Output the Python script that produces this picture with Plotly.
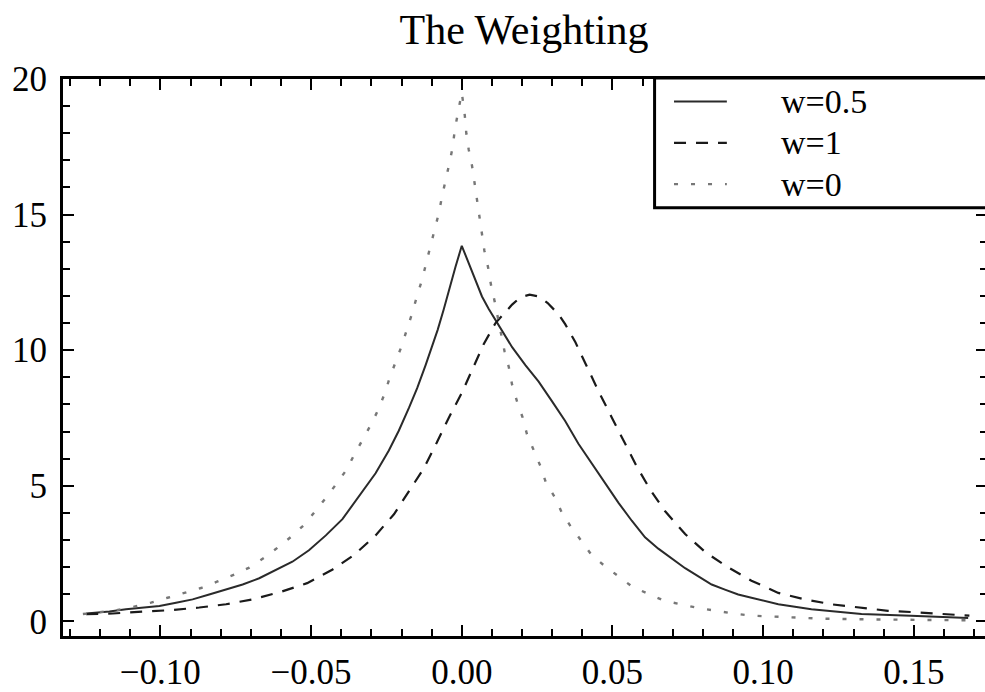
import plotly.graph_objects as go

# ---- data ----
x_w0 = [-0.1257, -0.1208, -0.1147, -0.1092, -0.1031, -0.0976, -0.0920, -0.0865, -0.0810, -0.0755,
        -0.0705, -0.0656, -0.0612, -0.0564, -0.0520, -0.0487, -0.0451, -0.0418, -0.0383, -0.0358,
        -0.0330, -0.0299, -0.0277, -0.0255, -0.0239, -0.0218, -0.0198, -0.0181, -0.0164, -0.0148,
        -0.0131, -0.0118, -0.0104, -0.0089, -0.0076, -0.0065, -0.0052, -0.0041, -0.0030, -0.0023,
        -0.0012, 0.0000, 0.0010, 0.0015, 0.0023, 0.0034, 0.0042, 0.0051, 0.0058, 0.0067,
        0.0075, 0.0087, 0.0097, 0.0109, 0.0120, 0.0131, 0.0142, 0.0156, 0.0167, 0.0183,
        0.0202, 0.0216, 0.0238, 0.0261, 0.0279, 0.0308, 0.0332, 0.0363, 0.0398, 0.0431,
        0.0470, 0.0520, 0.0564, 0.0619, 0.0674, 0.0727, 0.0785, 0.0845, 0.0900, 0.0961,
        0.1072, 0.1193, 0.1304, 0.1420, 0.1550, 0.1700]
y_w0 = [0.27, 0.33, 0.41, 0.53, 0.69, 0.87, 1.05, 1.23, 1.47, 1.72,
        1.98, 2.34, 2.71, 3.14, 3.59, 4.04, 4.55, 5.04, 5.58, 6.12,
        6.69, 7.30, 7.81, 8.42, 8.99, 9.63, 10.20, 10.80, 11.38, 12.02,
        12.62, 13.22, 13.82, 14.42, 15.06, 15.70, 16.30, 16.90, 17.50, 18.14,
        18.80, 19.50, 18.66, 18.00, 17.40, 16.80, 16.20, 15.54, 14.94, 14.28,
        13.67, 13.07, 12.40, 11.80, 11.20, 10.60, 9.95, 9.38, 8.72, 8.12,
        7.51, 6.91, 6.30, 5.72, 5.12, 4.59, 4.01, 3.47, 2.95, 2.44,
        2.08, 1.66, 1.29, 1.01, 0.75, 0.63, 0.49, 0.39, 0.29, 0.21,
        0.15, 0.10, 0.08, 0.06, 0.05, 0.04]

x_w05 = [-0.1246, -0.1169, -0.1114, -0.1059, -0.1003, -0.0948, -0.0893, -0.0838, -0.0782, -0.0727,
         -0.0672, -0.0617, -0.0562, -0.0507, -0.0451, -0.0396, -0.0341, -0.0286, -0.0242, -0.0209,
         -0.0175, -0.0148, -0.0120, -0.0098, -0.0080, -0.0060, -0.0043, -0.0021, 0.0000, 0.0023,
         0.0045, 0.0067, 0.0089, 0.0117, 0.0140, 0.0167, 0.0211, 0.0255, 0.0299, 0.0343,
         0.0387, 0.0431, 0.0476, 0.0520, 0.0564, 0.0608, 0.0652, 0.0697, 0.0741, 0.0785,
         0.0829, 0.0873, 0.0917, 0.0961, 0.1050, 0.1160, 0.1326, 0.1490, 0.1680]
y_w05 = [0.29, 0.36, 0.45, 0.51, 0.57, 0.69, 0.81, 0.99, 1.17, 1.36,
         1.59, 1.90, 2.20, 2.62, 3.17, 3.77, 4.62, 5.46, 6.30, 7.03,
         7.88, 8.60, 9.45, 10.17, 10.75, 11.50, 12.22, 13.07, 13.85, 13.19,
         12.59, 11.98, 11.53, 11.01, 10.62, 10.11, 9.45, 8.84, 8.12, 7.39,
         6.55, 5.82, 5.10, 4.37, 3.71, 3.10, 2.68, 2.32, 1.96, 1.66,
         1.36, 1.17, 0.99, 0.87, 0.63, 0.45, 0.27, 0.21, 0.12]

x_w1 = [-0.1246, -0.1158, -0.1059, -0.0970, -0.0871, -0.0782, -0.0694, -0.0600, -0.0513, -0.0430,
        -0.0358, -0.0286, -0.0225, -0.0175, -0.0126, -0.0082, -0.0043, 0.0000, 0.0040, 0.0073,
        0.0112, 0.0167, 0.0194, 0.0225, 0.0255, 0.0285, 0.0321, 0.0343, 0.0377, 0.0415,
        0.0454, 0.0498, 0.0537, 0.0581, 0.0625, 0.0674, 0.0741, 0.0807, 0.0879, 0.0961,
        0.1050, 0.1138, 0.1226, 0.1315, 0.1414, 0.1513, 0.1602, 0.1684]
y_w1 = [0.27, 0.29, 0.36, 0.41, 0.51, 0.63, 0.81, 1.09, 1.41, 1.90,
        2.44, 3.17, 3.95, 4.80, 5.64, 6.61, 7.51, 8.42, 9.40, 10.23,
        11.00, 11.68, 11.95, 12.05, 11.98, 11.74, 11.32, 10.96, 10.29, 9.38,
        8.48, 7.51, 6.67, 5.70, 4.86, 4.07, 3.22, 2.56, 2.02, 1.50,
        1.05, 0.81, 0.63, 0.51, 0.39, 0.33, 0.27, 0.21]

series_names = ["w=0.5", "w=1", "w=0"]
x_tickvals = [-0.10, -0.05, 0.00, 0.05, 0.10, 0.15]
x_ticktext = ["\u22120.10", "\u22120.05", "0.00", "0.05", "0.10", "0.15"]
y_tickvals = [0, 5, 10, 15, 20]
y_ticktext = ["0", "5", "10", "15", "20"]
title_text = "The Weighting"

FONT = "Liberation Serif, Times New Roman, serif"
VIEW_W = 985                      # visible window width
W, H = 990, 692                   # frame's right edge lies just past the window
L, R, T, B = 63, 0, 79, 46
PW, PH = W - L - R, H - T - B
PX_PER_UNIT = 3024.0
X0 = -0.1323

styles = [
    dict(color="#2a2a2a", width=2),
    dict(color="#1a1a1a", width=2.2, dash="12px,10px"),
    dict(color="#777777", width=2.4, dash="4px,13px"),
]
xs = [x_w05, x_w1, x_w0]
ys = [y_w05, y_w1, y_w0]

fig = go.Figure()
for name, x, y, st in zip(series_names, xs, ys, styles):
    fig.add_trace(go.Scatter(x=x, y=y, mode="lines", name=name, line=st, showlegend=False))

axis_common = dict(
    showline=True, linecolor="black", linewidth=3, mirror="ticks",
    ticks="inside", ticklen=11, tickwidth=2, tickcolor="black",
    showgrid=False, zeroline=False,
    tickfont=dict(family=FONT, size=35, color="black"),
)

fig.update_xaxes(range=[X0, X0 + PW / PX_PER_UNIT], tickvals=x_tickvals, ticktext=x_ticktext,
                 ticklabelstandoff=3,
                 minor=dict(dtick=0.01, tick0=0, ticks="inside", ticklen=7, tickwidth=2, tickcolor="black"),
                 **axis_common)
fig.update_yaxes(range=[-0.54, 20.0], tickvals=y_tickvals, ticktext=y_ticktext,
                 ticklabelstandoff=6,
                 minor=dict(dtick=1, tick0=0, ticks="inside", ticklen=7, tickwidth=2, tickcolor="black"),
                 **axis_common)

# ---- legend box (Mathematica-style, drawn in paper coordinates) ----
def px_x(p):
    return (p - L) / PW

def px_y(p):
    return (H - B - p) / PH

shapes = [dict(type="rect", xref="paper", yref="paper",
               x0=px_x(656.5), x1=px_x(1010), y0=px_y(210), y1=px_y(78),
               line=dict(color="black", width=3), fillcolor="white", layer="above")]
annotations = []
row_y = [102, 144, 186]
for name, st, ry in zip(series_names, styles, row_y):
    shapes.append(dict(type="line", xref="paper", yref="paper",
                       x0=px_x(676), x1=px_x(729), y0=px_y(ry), y1=px_y(ry),
                       line=st, layer="above"))
    annotations.append(dict(text=name, xref="paper", yref="paper", x=px_x(781), y=px_y(ry),
                            xanchor="left", yanchor="middle", showarrow=False,
                            font=dict(family=FONT, size=34, color="black")))

fig.update_layout(
    width=W, height=H,
    margin=dict(l=L, r=R, t=T, b=B),
    paper_bgcolor="white", plot_bgcolor="white",
    title=dict(text=title_text, font=dict(family=FONT, size=42, color="black"),
               x=(L + VIEW_W) / 2 / W, xanchor="center", xref="container",
               y=1 - 29 / H, yanchor="middle", yref="container"),
    showlegend=False,
    shapes=shapes,
    annotations=annotations,
)

fig.write_html("out.html", config={"displayModeBar": False},
               post_script="document.body.style.margin='0px';document.body.style.overflow='hidden';")
